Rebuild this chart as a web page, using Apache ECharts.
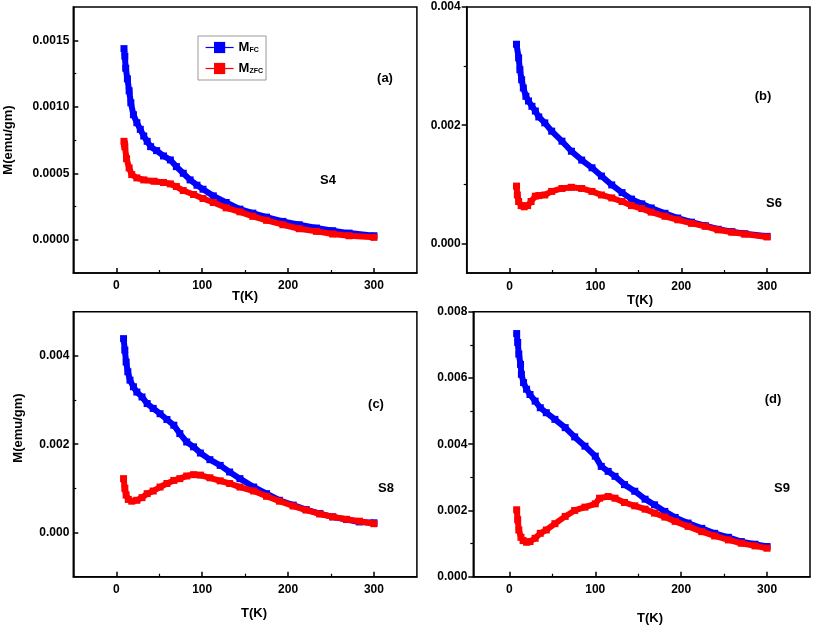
<!DOCTYPE html>
<html><head><meta charset="utf-8">
<script src="https://cdn.jsdelivr.net/npm/echarts@6/dist/echarts.min.js"></script>
<style>html,body{margin:0;padding:0;background:#fff}#c{width:813px;height:627px}</style>
</head><body><div id="c"></div>
<script>
// ---------- DATA ----------
// Panel (a) S4
const tA_fc = [9,10,11,13,15,17,20,24,28,32,36,40,47,55,63,70,78,86,94,101,113,128,144,159,175,194,213,233,252,271,300];
const mA_fc = [0.001437,0.00138,0.00129,0.00121,0.00112,0.00103,0.00094,0.00088,0.00083,0.00078,0.00074,0.00070,0.00067,0.00063,0.00060,0.00055,0.00050,0.00045,0.00041,0.00038,0.00033,0.00028,0.00023,0.00020,0.00017,0.000138,0.000113,0.000088,0.000068,0.00005,0.00003];
const tA_zfc = [9,9.5,10,12,15,18,24,32,44,55,63,70,78,90,101,113,128,144,159,175,194,213,233,252,271,300];
const mA_zfc = [0.00074,0.00072,0.00070,0.00061,0.00054,0.00049,0.000465,0.00045,0.00044,0.00043,0.00042,0.0004,0.00037,0.00034,0.00031,0.00028,0.00024,0.00021,0.000176,0.000146,0.000113,0.000083,0.000063,0.000043,0.00003,0.000018];
// Panel (b) S6
const tB_fc = [8,10.5,12,14,16,19,22,26,30,34,41,49,61,72,84,96,107,119,131,142,154,165,181,196,212,228,243,259,274,300];
const mB_fc = [0.00337,0.00314,0.00294,0.00277,0.00263,0.00249,0.00241,0.00232,0.00224,0.00214,0.00204,0.0019,0.00173,0.00156,0.00141,0.00128,0.00114,0.00099,0.00086,0.00075,0.00067,0.0006,0.00051,0.00043,0.00036,0.0003,0.00024,0.0002,0.000164,0.00012];
const tB_zfc = [8,9,10.5,13.5,17,21,25,30,34,41,49,61,72,84,96,107,119,131,142,154,165,181,196,212,228,243,259,274,300];
const mB_zfc = [0.00097,0.00082,0.00071,0.00064,0.00062,0.00064,0.00071,0.0008,0.00081,0.00082,0.00088,0.00093,0.00095,0.00093,0.00088,0.00082,0.00077,0.00071,0.00064,0.00059,0.00053,0.00046,0.0004,0.00034,0.00029,0.00023,0.00019,0.000158,0.00011];
// Panel (c) S8
const tC_fc = [8.5,10,11.5,13.5,16,20,24,30,36,43,51,59,67,74,82,90,98,109,121,132,144,160,175,190,206,221,237,252,268,283,300];
const mC_fc = [0.00439,0.00413,0.00386,0.00364,0.00345,0.0033,0.00318,0.00307,0.00292,0.00281,0.00269,0.00256,0.00243,0.00224,0.00205,0.00194,0.0018,0.00165,0.00152,0.00137,0.00122,0.00103,0.00088,0.00073,0.00062,0.00052,0.00043,0.000355,0.000294,0.00024,0.00022];
const tC_zfc = [8.5,10,11.5,14,18,24,30,36,43,51,59,67,74,82,90,98,109,121,132,144,160,175,190,206,221,237,252,268,283,300];
const mC_zfc = [0.00122,0.001,0.00085,0.00075,0.00071,0.00073,0.00079,0.00088,0.00094,0.00103,0.00111,0.00118,0.00122,0.00128,0.00131,0.0013,0.00124,0.00117,0.00111,0.00103,0.00094,0.00082,0.00071,0.0006,0.00051,0.00042,0.000355,0.0003,0.000257,0.0002];
// Panel (d) S9
const tD_fc = [8.5,9.7,11,13,14,16.5,20,24,30,36,43,53,65,76,88,100,107,115,123,134,146,158,169,181,193,208,224,239,255,270,286,300];
const mD_fc = [0.00734,0.00707,0.00672,0.00641,0.00611,0.00586,0.00566,0.0055,0.0053,0.0051,0.00495,0.00475,0.0045,0.00422,0.00394,0.00364,0.00333,0.00318,0.00303,0.00278,0.00258,0.00234,0.00217,0.00197,0.00179,0.00162,0.00146,0.00131,0.00119,0.00106,0.00098,0.00091];
const tD_zfc = [8.5,9.7,11,13.5,16,20,24,30,36,43,53,65,76,88,100,105,115,123,134,146,158,169,181,193,208,224,239,255,270,286,300];
const mD_zfc = [0.00202,0.00172,0.00141,0.00119,0.00109,0.00104,0.00106,0.00116,0.00131,0.00141,0.0016,0.00182,0.002,0.0021,0.0022,0.00237,0.00242,0.00237,0.00224,0.00214,0.00204,0.00192,0.0018,0.00167,0.00152,0.00136,0.00123,0.00111,0.00101,0.00093,0.00086];

// tick values
const xMajor = [0,100,200,300];
const xMinor = [50,150,250];
const yMajorA = [0,0.0005,0.001,0.0015];
const yMinorA = [0.00025,0.00075,0.00125];
const yMajorB = [0,0.002,0.004];
const yMinorB = [0.001,0.003];
const yMajorC = [0,0.002,0.004];
const yMinorC = [-0.001,0.001,0.003];
const yMajorD = [0,0.002,0.004,0.006,0.008];
const yMinorD = [0.001,0.003,0.005,0.007];

const seriesNames = ['MFC','MZFC'];
const panelLabels = ['(a)','(b)','(c)','(d)'];
const sampleLabels = ['S4','S6','S8','S9'];
const xTitle = 'T(K)';
const yTitle = 'M(emu/gm)';

// ---------- LAYOUT ----------
const FONT = '"Liberation Sans", Arial, Helvetica, sans-serif';
const BLUE = '#0000ff', RED = '#ff0000';

const panels = [
  {grid:{left:73.3,top:7,width:343.6,height:266}, xr:[-50,350], yr:[-0.00025,0.00175], yMaj:yMajorA, yMin:yMinorA, dig:4, inside:true, ymargin:4, xmargin:7,
   fc:[tA_fc,mA_fc], zfc:[tA_zfc,mA_zfc]},
  {grid:{left:466.7,top:7,width:343.3,height:266}, xr:[-50,350], yr:[-0.0005,0.004], yMaj:yMajorB, yMin:yMinorB, dig:3, inside:false, ymargin:6, xmargin:8,
   fc:[tB_fc,mB_fc], zfc:[tB_zfc,mB_zfc]},
  {grid:{left:73.3,top:311.7,width:343.6,height:265}, xr:[-50,350], yr:[-0.001,0.005], yMaj:yMajorC, yMin:yMinorC, dig:3, inside:true, ymargin:4, xmargin:7,
   fc:[tC_fc,mC_fc], zfc:[tC_zfc,mC_zfc]},
  {grid:{left:473.3,top:311.7,width:336.7,height:265}, xr:[-42,350], yr:[0,0.008], yMaj:yMajorD, yMin:yMinorD, dig:3, inside:false, ymargin:6, xmargin:7,
   fc:[tD_fc,mD_fc], zfc:[tD_zfc,mD_zfc]}
];

const grids = [], xAxes = [], yAxes = [], series = [];
const labelStyle = {fontFamily:FONT, fontWeight:'bold', fontSize:12, color:'#000'};
panels.forEach((p, i) => {
  grids.push(Object.assign({show:true, borderColor:'#000', borderWidth:1.5, containLabel:false}, p.grid));
  const xi = xAxes.length, yi = yAxes.length;
  xAxes.push({gridIndex:i, type:'value', min:p.xr[0], max:p.xr[1], position:'bottom',
    axisLine:{show:true, onZero:false, lineStyle:{color:'#000', width:1.5}},
    axisTick:{show:true, inside:true, length:5, customValues:xMajor, lineStyle:{color:'#000', width:1.5}},
    axisLabel:Object.assign({show:true, margin:p.xmargin, customValues:xMajor, formatter:v=>String(v)}, labelStyle),
    splitLine:{show:false}});
  xAxes.push({gridIndex:i, type:'value', min:p.xr[0], max:p.xr[1], position:'bottom',
    axisLine:{show:false, onZero:false},
    axisTick:{show:true, inside:true, length:3, customValues:xMinor, lineStyle:{color:'#000', width:1.2}},
    axisLabel:{show:false}, splitLine:{show:false}});
  yAxes.push({gridIndex:i, type:'value', min:p.yr[0], max:p.yr[1], position:'left',
    axisLine:{show:true, onZero:false, lineStyle:{color:'#000', width:1.5}},
    axisTick:{show:true, inside:p.inside, length:5, customValues:p.yMaj, lineStyle:{color:'#000', width:1.5}},
    axisLabel:Object.assign({show:true, margin:p.ymargin, customValues:p.yMaj, formatter:v=>v.toFixed(p.dig)}, labelStyle),
    splitLine:{show:false}});
  yAxes.push({gridIndex:i, type:'value', min:p.yr[0], max:p.yr[1], position:'left',
    axisLine:{show:false, onZero:false},
    axisTick:{show:true, inside:p.inside, length:3, customValues:p.yMin, lineStyle:{color:'#000', width:1.2}},
    axisLabel:{show:false}, splitLine:{show:false}});
  [[p.fc, BLUE, seriesNames[0]], [p.zfc, RED, seriesNames[1]]].forEach(([d, col, nm]) => {
    series.push({type:'line', name:nm, xAxisIndex:xi, yAxisIndex:yi,
      data:d[0].map((t, k) => [t, d[1][k]]),
      symbol:'rect', symbolSize:7, showSymbol:true, showAllSymbol:true,
      itemStyle:{color:col}, lineStyle:{color:col, width:6}, emphasis:{disabled:true}, z:col===RED?3:2});
  });
});

const textEl = (txt, x, y, size, rot) => ({type:'text', x:x, y:y, rotation:rot||0, z:100,
  style:{text:txt, font:'bold '+size+'px '+FONT, fill:'#000', align:'center', verticalAlign:'middle'}});
const graphics = [
  textEl(panelLabels[0], 385, 78, 13), textEl(sampleLabels[0], 328, 180, 13),
  textEl(panelLabels[1], 763, 96, 13), textEl(sampleLabels[1], 774, 203, 13),
  textEl(panelLabels[2], 376, 404, 13), textEl(sampleLabels[2], 386, 488, 13),
  textEl(panelLabels[3], 773, 399, 13), textEl(sampleLabels[3], 782, 488, 13),
  textEl(xTitle, 245, 296, 13), textEl(xTitle, 640, 300, 13),
  textEl(xTitle, 254, 613, 13), textEl(xTitle, 650, 618, 13),
  textEl(yTitle, 8, 140, 13, Math.PI/2), textEl(yTitle, 18, 428, 13, Math.PI/2)
];

const chart = echarts.init(document.getElementById('c'), null, {renderer:'canvas'});
chart.setOption({
  animation:false,
  backgroundColor:'#fff',
  grid:grids, xAxis:xAxes, yAxis:yAxes, series:series,
  legend:{show:true, data:seriesNames, orient:'vertical', left:198, top:36,
    padding:[5,3,5,7], itemGap:8, itemWidth:28, itemHeight:14,
    borderColor:'#999', borderWidth:1, selectedMode:false,
    lineStyle:{width:1.2},
    formatter: n => n === 'MFC' ? '{m|M}{s|FC}' : '{m|M}{s|ZFC}',
    textStyle:{rich:{m:{fontFamily:FONT, fontWeight:'bold', fontSize:13, color:'#000'},
                     s:{fontFamily:FONT, fontWeight:'bold', fontSize:7, color:'#000', verticalAlign:'bottom', padding:[6,0,0,0]}}}},
  graphic:graphics
});
</script></body></html>
